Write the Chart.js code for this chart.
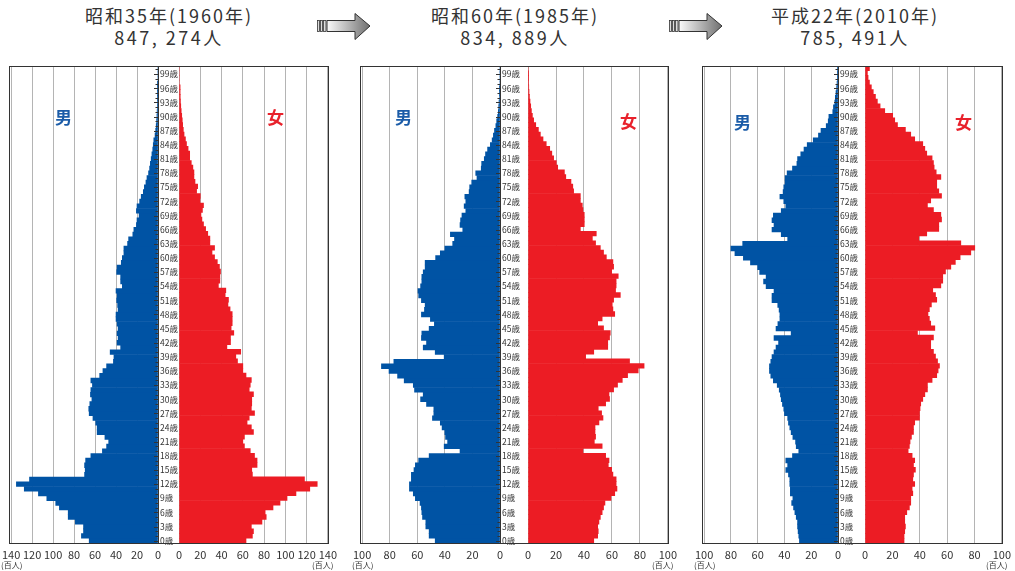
<!DOCTYPE html>
<html>
<head>
<meta charset="utf-8">
<script src="https://cdn.jsdelivr.net/npm/chart.js@4.4.0/dist/chart.umd.min.js"></script>
<style>
  body { margin: 0; background: #fff; width: 1015px; height: 571px; position: relative; overflow: hidden;
         font-family: "Noto Sans CJK JP", sans-serif; }
  canvas { position: absolute; }
  .box { position: absolute; border: 1px solid #333; box-sizing: border-box; pointer-events: none; }
  .title { position: absolute; width: 300px; text-align: center; color: #333; font-size: 18px; line-height: 22px;
           letter-spacing: 2px; }
  .title .n { letter-spacing: 2.5px; }
  .sex { position: absolute; font-weight: bold; font-size: 17px; line-height: 17px; }
  .unit { position: absolute; top: 560px; font-size: 8px; line-height: 10px; color: #333; }
  svg { position: absolute; }
</style>
</head>
<body>

<div class="title" style="left:19px;top:4px">昭和35年(1960年)<br><span class="n">847, 274人</span></div>
<div class="title" style="left:365px;top:4px">昭和60年(1985年)<br><span class="n">834, 889人</span></div>
<div class="title" style="left:705px;top:4px">平成22年(2010年)<br><span class="n">785, 491人</span></div>

<svg id="arrow1" style="left:315px;top:10px" width="60" height="34"></svg>
<svg id="arrow2" style="left:667px;top:10px" width="60" height="34"></svg>

<canvas id="m1"></canvas><canvas id="f1"></canvas>
<canvas id="m2"></canvas><canvas id="f2"></canvas>
<canvas id="m3"></canvas><canvas id="f3"></canvas>

<script>
/* age categories 0..100 */
const ages = Array.from({length: 101}, (_, i) => String(i));

/* 1960 (hundreds of people), index = age */
const male1960 = [65.6,73,71,71,78.8,85.6,85.6,94,97.5,106,114,127.5,135,122.5,70,69.4,70,69,64,53,
  49,47,50.6,58,58,59.4,62,65.6,66,65,63,64.4,64,62.5,64,55.6,52.5,49,42.5,42,
  45.6,35.6,39,38,39,38,39,40,40,38,38.5,39.4,39,40,34,35.6,35.6,39.4,39,35,
  34,32.5,32.5,29,28,24,23,20.6,20,18,20.6,20,17.5,16,14,13,11.5,10.5,9,8,
  7.3,6.5,5.8,5,4.5,4,2.8,2.2,1.7,1.3,1,0.8,0.6,0.4,0.3,0.2,0.1,0.1,0,0,0];
const female1960 = [63,69,70,68,78,82,81,88.4,95,101.6,110,123,130,118,69,68.4,73.4,73.4,71,67,
  61.5,60,61.5,70,68,64,66,71,68,68.4,68.4,70,66,67,68,63,60,60,55,53.4,
  58,45,48.4,48.4,51.5,49,50,50,50,48,46,46.5,43.4,44,37,38.4,38.4,39,38,36,
  33.4,31,33.4,29,29,27,25,23,21.5,20.6,22,23,19.7,20,16.5,17.5,15,14,14,13,
  11.5,10,10,8.5,7,6,4.7,4,3.4,3,2.5,2,1.6,1.3,1.1,1,1,0,0,0,0];

/* 1985 */
const male1985 = [47,51.4,51.4,53.8,53.8,56.2,56.7,57,58,61.4,62.9,65.7,65.7,64.3,64.3,62.4,61.4,59,51.4,29,
  40.5,38,39.5,40,42,43.3,49,48,48,53.3,57.6,55.7,62,62.9,69.5,74.3,80.5,86,77,40.5,
  47,55.7,53.3,57,56.7,51.4,47.6,50.5,57,54.8,54.3,57,59,59.5,57.6,56.7,56.7,55.7,54.3,54.3,
  46.7,43.3,40,34.3,33,36,27,29,28.6,27.6,24.8,26,24.8,25.5,22.4,22,20.5,16.7,17.6,13.6,
  13.3,11.4,10.5,9,7,5.7,4.8,4,3,2.4,1.7,1.2,0.9,0.7,0.4,0.2,0.1,0,0,0,0];
const female1985 = [47,49.8,50.2,49.8,50.7,51.7,53,54,55,59.3,62,63.6,63,63,60.7,59.8,57.4,57.9,55.5,39.3,
  53,47.4,48.3,47.9,47.9,50.7,53.6,52.6,50.2,55.5,58.3,57.9,61.2,64,67.4,71.2,78.8,83,72.6,41.2,
  47,57,57,58.3,58.8,54,49.8,53,62,60.7,60.2,61.2,66,62.6,63,63,64.5,59.8,61.2,60.7,
  56,54,51.7,48.3,46,48.8,37.4,40.2,40.2,40.2,39.3,38.8,37.4,37.4,32.6,32,30.7,27,26,21.2,
  20.2,18.3,17,15.5,13,10.7,8.8,7.4,5.5,4,3.1,2.4,1.9,1.4,1,0.7,0.5,0.3,0.2,0.1,0];

/* 2010 */
const male2010 = [28.8,29.3,29.8,30.2,30.2,31.2,32.2,33.2,34.6,33.7,35.6,35.6,36,36,37,39,37.6,39,34,29.3,
  31.2,31.7,33.7,35,36,37,37.6,40,40.5,41.5,42.4,43,43.9,45.4,48.3,50.2,51.2,51.2,50.2,49.3,
  47.8,46.3,44.4,47.8,35,46.3,44.9,43.4,43.4,44,45,49.3,49.3,47.8,53.7,55.6,53.7,58.5,60,65.4,
  70.7,77,80,71.2,37.6,42.4,49.3,47.8,49.3,48.3,42.4,39,40.5,43.4,41,40.5,39.5,39.5,38,34,
  30.7,30.2,27.8,25.4,23,18.5,14.6,12.7,8.8,7.3,6.8,3.9,3.4,2.4,2,1.5,1,0.7,0.5,0.2,0.3];
const female2010 = [28.5,28.5,29,29.5,29,29,30.5,32.4,33.4,33.4,34.9,34.4,36.3,34.9,35.4,36.8,35.4,36.3,34.4,31.5,
  32.4,32.9,33.9,35.4,35.4,36.3,39.8,39.8,40.2,40.7,42.2,43.7,45.6,45.6,49,52.4,53.4,54.4,53,51.5,
  50,48,48,50,38.3,51,48,47,46,47,48.5,52.4,51.5,49.5,55.4,56.8,56.8,58.8,62.7,66,
  69.5,77.3,80.2,70,39.3,45.1,53.9,53.9,55.9,55.4,50,45.6,48,55.9,53.9,52.4,52.4,55.4,52,50.5,
  50,49,45.1,43.7,42.2,36.3,33.4,29.5,23.7,21.7,20.2,14.4,11,9,7.6,6,4.6,3.2,2.2,1.7,3.2];

const BLUE = '#0053a4';
const RED = '#ec1c24';
const TOP = 66, BOTTOM = 543, CANVAS_TOP = 60, CANVAS_H = 511;

const tickFont = { family: '"Noto Sans CJK JP", sans-serif', size: 11 };
const ageFont = { family: '"Noto Sans CJK JP", sans-serif', size: 8.5 };

/* little inward tick marks on the age axis */
const ageTicks = {
  id: 'ageTicks',
  afterDatasetsDraw(chart) {
    const {ctx, chartArea, scales: {y}} = chart;
    ctx.save();
    ctx.strokeStyle = '#333';
    ctx.lineWidth = 1;
    ctx.beginPath();
    ages.forEach((a, i) => {
      const py = Math.round(y.getPixelForValue(i)) + 0.5;
      const len = i % 3 === 0 ? 4 : 2.5;
      ctx.moveTo(chartArea.right - len, py);
      ctx.lineTo(chartArea.right, py);
    });
    ctx.stroke();
    ctx.restore();
  }
};

function place(canvas, left, width) {
  canvas.width = width;
  canvas.height = CANVAS_H;
  canvas.style.left = left + 'px';
  canvas.style.top = CANVAS_TOP + 'px';
}

function xScale(max, reverse) {
  return {
    reverse: reverse,
    min: 0,
    max: max,
    ticks: { stepSize: 20, padding: 5, font: tickFont, color: '#333', maxRotation: 0, autoSkip: false },
    grid: { color: '#b4b4b4', drawTicks: false },
    border: { display: true, color: '#333' },
    afterFit: s => { s.height = CANVAS_H - (BOTTOM - CANVAS_TOP); }
  };
}

function makePanel(n, p, maleData, femaleData) {
  const mc = document.getElementById('m' + n);
  const fc = document.getElementById('f' + n);
  place(mc, p.maleLeft - 12, p.femLeft - p.maleLeft + 12);
  place(fc, p.femLeft - 8, p.femRight - p.femLeft + 22);

  new Chart(mc, {
    type: 'bar',
    data: {
      labels: ages,
      datasets: [{ data: maleData, backgroundColor: BLUE, borderWidth: 0, barPercentage: 1, categoryPercentage: 1 }]
    },
    options: {
      indexAxis: 'y',
      responsive: false,
      animation: false,
      layout: { padding: { left: 12, top: TOP - CANVAS_TOP, right: 0, bottom: 0 } },
      plugins: { legend: { display: false }, tooltip: { enabled: false } },
      scales: {
        x: xScale(p.max, true),
        y: {
          position: 'right',
          reverse: true,
          grid: { display: false, drawTicks: false },
          border: { display: true, color: '#333' },
          ticks: {
            autoSkip: false, padding: 2, font: ageFont, color: '#333',
            callback: (v, i) => (i % 3 === 0 && i < 100) ? i + '歳' : ''
          },
          afterFit: s => { s.width = p.femLeft - p.maleRight; }
        }
      }
    },
    plugins: [ageTicks]
  });

  new Chart(fc, {
    type: 'bar',
    data: {
      labels: ages,
      datasets: [{ data: femaleData, backgroundColor: RED, borderWidth: 0, barPercentage: 1, categoryPercentage: 1 }]
    },
    options: {
      indexAxis: 'y',
      responsive: false,
      animation: false,
      layout: { padding: { left: 8, top: TOP - CANVAS_TOP, right: 14, bottom: 0 } },
      plugins: { legend: { display: false }, tooltip: { enabled: false } },
      scales: {
        x: xScale(p.max, false),
        y: { display: false, reverse: true }
      }
    }
  });

  // frame round the whole pyramid
  const box = document.createElement('div');
  box.className = 'box';
  box.style.left = p.maleLeft + 'px';
  box.style.top = TOP + 'px';
  box.style.width = (p.femRight - p.maleLeft + 1) + 'px';
  box.style.height = (BOTTOM - TOP + 1) + 'px';
  document.body.appendChild(box);

  const addText = (cls, txt, css) => {
    const d = document.createElement('div');
    d.className = cls;
    d.textContent = txt;
    Object.assign(d.style, css);
    document.body.appendChild(d);
  };
  addText('sex', '男', { left: p.male.x + 'px', top: p.male.y + 'px', color: '#1b5ca8' });
  addText('sex', '女', { left: p.fem.x + 'px', top: p.fem.y + 'px', color: '#e8212b' });
  addText('unit', '(百人)', { left: (p.maleLeft - 8) + 'px' });
  addText('unit', '(百人)', { left: (p.femRight - 16) + 'px' });
}

makePanel(1, { maleLeft: 9, maleRight: 158, femLeft: 179, femRight: 328, max: 140,
  male: { x: 55, y: 108 }, fem: { x: 267, y: 108 } }, male1960, female1960);
makePanel(2, { maleLeft: 360, maleRight: 500, femLeft: 528, femRight: 668, max: 100,
  male: { x: 395, y: 108 }, fem: { x: 620, y: 112 } }, male1985, female1985);
makePanel(3, { maleLeft: 702, maleRight: 838, femLeft: 865, femRight: 1002, max: 100,
  male: { x: 734, y: 113 }, fem: { x: 955, y: 113 } }, male2010, female2010);

/* gray arrows between the titles */
function drawArrow(id) {
  const svg = document.getElementById(id);
  svg.innerHTML =
    '<defs><linearGradient id="g' + id + '" x1="0" x2="1" y1="0" y2="0">' +
    '<stop offset="0" stop-color="#fafafa"/><stop offset="1" stop-color="#6f6f6f"/></linearGradient></defs>' +
    '<rect x="2.5" y="10.5" width="2" height="11" fill="#ddd" stroke="#333" stroke-width="0.8"/>' +
    '<rect x="5.5" y="10.5" width="2" height="11" fill="#ddd" stroke="#333" stroke-width="0.8"/>' +
    '<rect x="8.5" y="10.5" width="2.5" height="11" fill="#ddd" stroke="#333" stroke-width="0.8"/>' +
    '<path d="M12 10.5 H40 V3.5 L55 16 L40 29.5 V21.5 H12 Z" fill="url(#g' + id + ')" stroke="#333" stroke-width="1"/>';
}
drawArrow('arrow1');
drawArrow('arrow2');
</script>
</body>
</html>
